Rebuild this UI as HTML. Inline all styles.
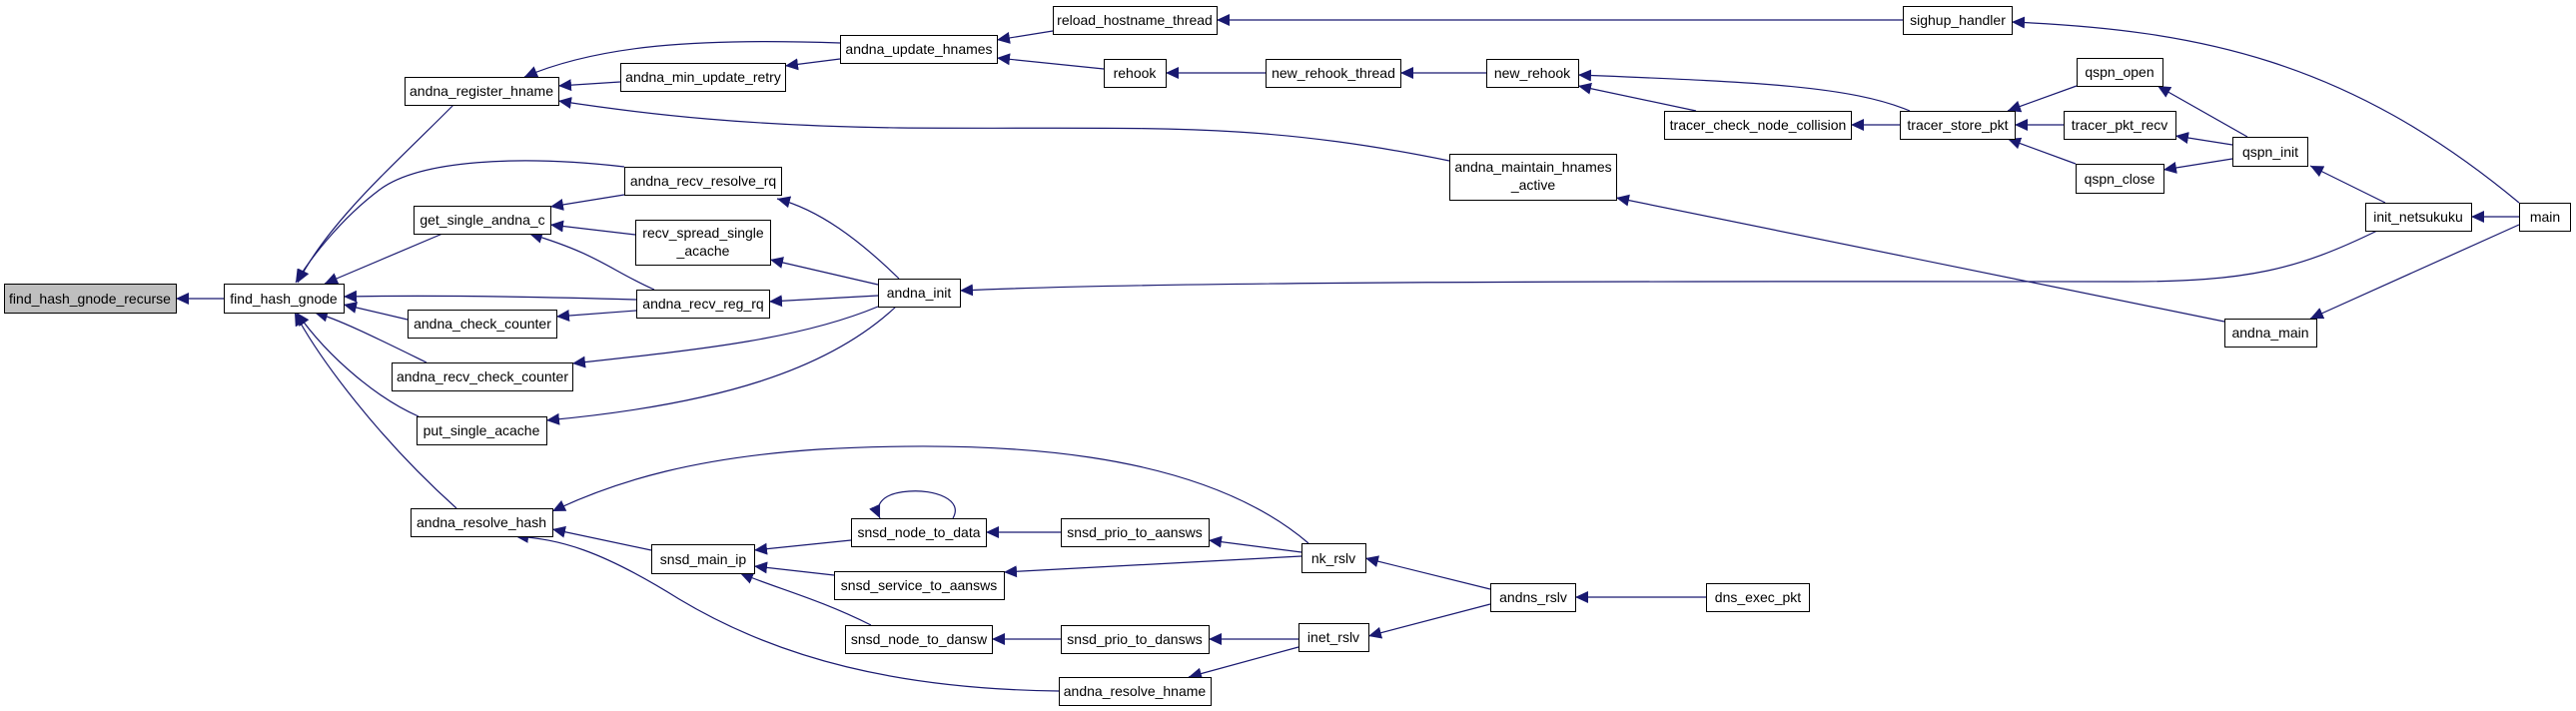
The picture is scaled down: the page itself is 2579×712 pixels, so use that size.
<!DOCTYPE html>
<html><head><meta charset="utf-8"><style>
html,body{margin:0;padding:0;background:#fff}
svg{display:block}
text{font-family:"Liberation Sans",sans-serif;font-size:14px;fill:#000}
</style></head><body>
<svg width="2579" height="712" viewBox="0 0 2579 712" xmlns="http://www.w3.org/2000/svg">
<defs>
<marker id="a" markerUnits="userSpaceOnUse" markerWidth="14" markerHeight="12" refX="13" refY="6" orient="auto">
<path d="M0,0 L13,6 L0,12 Z" fill="#191970"/>
</marker>
</defs>
<g fill="none" stroke="#191970" stroke-width="1.2" marker-end="url(#a)">
<path d="M224,299 L176,299"/>
<path d="M455,104 C400,160 330,220 298,283"/>
<path d="M625,167 C520,155 420,160 380,190 C340,220 310,260 296,283"/>
<path d="M443,234 L325,284"/>
<path d="M637,300 C500,296 400,296 344,297"/>
<path d="M408,320 L344,305"/>
<path d="M427,363 C380,340 340,320 315,313"/>
<path d="M419,417 C380,400 330,360 297,313"/>
<path d="M457,509 C380,440 320,360 295,313"/>
<path d="M621,82 L559,86"/>
<path d="M841,43 C700,38 600,45 525,77"/>
<path d="M1451,161 C1250,120 1150,130 900,128 C750,126 650,115 559,101"/>
<path d="M841,59 L786,66"/>
<path d="M1054,31 L998,40"/>
<path d="M1105,69 L998,58"/>
<path d="M1905,20 L1218,20"/>
<path d="M1267,73 L1167,73"/>
<path d="M1488,73 L1402,73"/>
<path d="M1912,111 C1850,85 1750,82 1580,75"/>
<path d="M1698,111 L1580,86"/>
<path d="M1902,125 L1853,125"/>
<path d="M2079,86 L2010,111"/>
<path d="M2066,125 L2017,125"/>
<path d="M2078,164 L2010,139"/>
<path d="M2250,137 L2160,86"/>
<path d="M2235,145 L2178,136"/>
<path d="M2235,159 L2166,170"/>
<path d="M2388,203 L2313,166"/>
<path d="M2522,217 L2474,217"/>
<path d="M2522,203 C2350,60 2200,30 2014,22"/>
<path d="M2522,225 L2313,319"/>
<path d="M2380,231 C2300,270 2250,282 2130,282 C1800,282 1200,280 961,291"/>
<path d="M2227,322 L1618,198"/>
<path d="M900,279 C860,240 820,210 778,199"/>
<path d="M879,285 L771,260"/>
<path d="M879,296 L770,302"/>
<path d="M879,307 C800,340 700,350 573,364"/>
<path d="M897,307 C830,370 720,405 547,421"/>
<path d="M625,195 L551,207"/>
<path d="M636,235 L551,225"/>
<path d="M655,290 C610,270 600,255 530,234"/>
<path d="M637,311 L557,317"/>
<path d="M1310,544 C1200,450 1000,440 820,450 C700,458 620,480 553,512"/>
<path d="M652,551 L553,530"/>
<path d="M1060,692 C900,690 780,660 680,600 C600,550 560,540 516,537"/>
<path d="M852,541 L755,551"/>
<path d="M835,576 L755,567"/>
<path d="M872,626 C820,600 780,590 741,574"/>
<path d="M954,519 C965,500 935,490 910,492 C880,494 876,508 881,519"/>
<path d="M1062,533 L987,533"/>
<path d="M1303,553 L1210,541"/>
<path d="M1303,557 L1005,573"/>
<path d="M1492,590 L1367,559"/>
<path d="M1492,605 L1370,637"/>
<path d="M1708,598 L1577,598"/>
<path d="M1062,640 L993,640"/>
<path d="M1300,640 L1210,640"/>
<path d="M1300,648 L1190,678"/>
</g>
<g stroke="#000" stroke-width="1" fill="#fff">
<rect x="4.5" y="284.5" width="172" height="29" fill="#bfbfbf"/>
<rect x="224.5" y="284.5" width="120" height="29"/>
<rect x="405.5" y="77.5" width="154" height="28"/>
<rect x="621.5" y="63.5" width="165" height="28"/>
<rect x="625.5" y="167.5" width="157" height="28"/>
<rect x="414.5" y="206.5" width="137" height="28"/>
<rect x="636.5" y="220.5" width="135" height="45"/>
<rect x="637.5" y="290.5" width="133" height="28"/>
<rect x="408.5" y="310.5" width="149" height="28"/>
<rect x="392.5" y="363.5" width="181" height="28"/>
<rect x="417.5" y="417.5" width="130" height="28"/>
<rect x="411.5" y="509.5" width="142" height="28"/>
<rect x="652.5" y="545.5" width="103" height="29"/>
<rect x="1054.5" y="6.5" width="164" height="28"/>
<rect x="841.5" y="35.5" width="157" height="28"/>
<rect x="1105.5" y="59.5" width="62" height="28"/>
<rect x="1267.5" y="59.5" width="135" height="28"/>
<rect x="1488.5" y="59.5" width="92" height="28"/>
<rect x="1451.5" y="154.5" width="167" height="46"/>
<rect x="879.5" y="279.5" width="82" height="28"/>
<rect x="1666.5" y="111.5" width="187" height="28"/>
<rect x="1905.5" y="6.5" width="109" height="28"/>
<rect x="2079.5" y="58.5" width="86" height="28"/>
<rect x="1902.5" y="111.5" width="115" height="28"/>
<rect x="2066.5" y="111.5" width="112" height="28"/>
<rect x="2078.5" y="164.5" width="88" height="29"/>
<rect x="2235.5" y="137.5" width="75" height="29"/>
<rect x="2368.5" y="203.5" width="106" height="28"/>
<rect x="2522.5" y="203.5" width="51" height="28"/>
<rect x="2227.5" y="319.5" width="92" height="28"/>
<rect x="852.5" y="519.5" width="135" height="28"/>
<rect x="1062.5" y="519.5" width="148" height="28"/>
<rect x="1303.5" y="544.5" width="64" height="29"/>
<rect x="835.5" y="572.5" width="170" height="28"/>
<rect x="1492.5" y="584.5" width="85" height="28"/>
<rect x="1708.5" y="584.5" width="103" height="28"/>
<rect x="846.5" y="626.5" width="147" height="28"/>
<rect x="1062.5" y="626.5" width="148" height="28"/>
<rect x="1300.5" y="624.5" width="70" height="28"/>
<rect x="1060.5" y="678.5" width="152" height="28"/>
</g>
<g text-anchor="middle" lengthAdjust="spacingAndGlyphs">
<text x="90" y="304">find_hash_gnode_recurse</text>
<text x="284" y="304">find_hash_gnode</text>
<text x="482" y="96">andna_register_hname</text>
<text x="704" y="82">andna_min_update_retry</text>
<text x="704" y="186">andna_recv_resolve_rq</text>
<text x="483" y="225">get_single_andna_c</text>
<text x="704" y="238">recv_spread_single</text>
<text x="704" y="256">_acache</text>
<text x="704" y="309">andna_recv_reg_rq</text>
<text x="483" y="329">andna_check_counter</text>
<text x="483" y="382">andna_recv_check_counter</text>
<text x="482" y="436">put_single_acache</text>
<text x="482" y="528">andna_resolve_hash</text>
<text x="704" y="565">snsd_main_ip</text>
<text x="1136" y="25">reload_hostname_thread</text>
<text x="920" y="54">andna_update_hnames</text>
<text x="1136" y="78">rehook</text>
<text x="1335" y="78">new_rehook_thread</text>
<text x="1534" y="78">new_rehook</text>
<text x="1535" y="172">andna_maintain_hnames</text>
<text x="1535" y="190">_active</text>
<text x="920" y="298">andna_init</text>
<text x="1760" y="130">tracer_check_node_collision</text>
<text x="1960" y="25">sighup_handler</text>
<text x="2122" y="77">qspn_open</text>
<text x="1960" y="130">tracer_store_pkt</text>
<text x="2122" y="130">tracer_pkt_recv</text>
<text x="2122" y="184">qspn_close</text>
<text x="2273" y="157">qspn_init</text>
<text x="2421" y="222">init_netsukuku</text>
<text x="2548" y="222">main</text>
<text x="2273" y="338">andna_main</text>
<text x="920" y="538">snsd_node_to_data</text>
<text x="1136" y="538">snsd_prio_to_aansws</text>
<text x="1335" y="564">nk_rslv</text>
<text x="920" y="591">snsd_service_to_aansws</text>
<text x="1535" y="603">andns_rslv</text>
<text x="1760" y="603">dns_exec_pkt</text>
<text x="920" y="645">snsd_node_to_dansw</text>
<text x="1136" y="645">snsd_prio_to_dansws</text>
<text x="1335" y="643">inet_rslv</text>
<text x="1136" y="697">andna_resolve_hname</text>
</g>
</svg>
</body></html>
